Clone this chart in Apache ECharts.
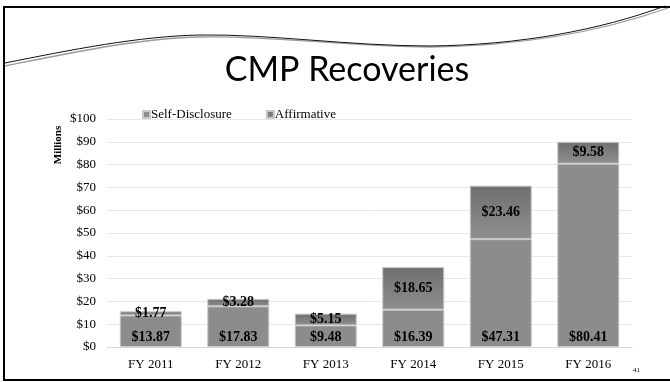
<!DOCTYPE html>
<html><head><meta charset="utf-8">
<script src="https://cdn.jsdelivr.net/npm/echarts@6/dist/echarts.min.js"></script>
<style>html,body{margin:0;padding:0;background:#fff}#c{width:670px;height:382px}</style>
</head><body><div id="c"></div>
<script>
const categories = ['FY 2011','FY 2012','FY 2013','FY 2014','FY 2015','FY 2016'];
const selfDisclosure = [13.87, 17.83, 9.48, 16.39, 47.31, 80.41];
const affirmative = [1.77, 3.28, 5.15, 18.65, 23.46, 9.58];
const seriesNames = ['Self-Disclosure', 'Affirmative'];
const yTicks = [0, 10, 20, 30, 40, 50, 60, 70, 80, 90, 100];

const chart = echarts.init(document.getElementById('c'));
const serif = '"Liberation Serif","Times New Roman",serif';
const lbl = {show:true, color:'#000', fontFamily:serif, fontWeight:'bold', fontSize:14,
  formatter: p => '$' + p.value.toFixed(2)};
function curve(x1,y1,c1x,c1y,c2x,c2y,x2,y2,color,w){
  return {type:'bezierCurve', silent:true,
    shape:{x1:x1,y1:y1,cpx1:c1x,cpy1:c1y,cpx2:c2x,cpy2:c2y,x2:x2,y2:y2},
    style:{fill:null, stroke:color, lineWidth:w}};
}
const deco = [
  curve(5,66, 70,53, 140,38, 200,37, '#9a9a9a',1.3),
  curve(200,37, 270,35, 350,47, 430,47, '#9a9a9a',1.3),
  curve(430,47, 520,46, 600,32, 668,8, '#9a9a9a',1.3),
  curve(5,63, 70,50, 140,36, 200,35, '#111',1),
  curve(200,35, 270,34, 350,46, 430,46, '#111',1),
  curve(430,46, 520,45, 600,30, 665,6, '#111',1)
];
chart.setOption({
  animation:false,
  title:{text:'CMP Recoveries', left:342, top:48, textAlign:'center',
    textStyle:{fontFamily:'Lato, "Open Sans", sans-serif', fontWeight:'normal', fontSize:34, color:'#000'}},
  legend:{data:seriesNames, left:137, top:103, itemWidth:7, itemHeight:7, itemGap:34, icon:'rect',
    textStyle:{fontFamily:serif, fontSize:13, color:'#000', padding:[0,0,0,-4]}},
  grid:{left:107, right:38, top:119, bottom:35},
  xAxis:{type:'category', data:categories,
    axisLine:{lineStyle:{color:'#d9d9d9'}}, axisTick:{show:false},
    axisLabel:{fontFamily:serif, fontSize:13, color:'#000', margin:11}},
  yAxis:{type:'value', min:0, max:100, interval:10,
    axisLabel:{fontFamily:serif, fontSize:13, color:'#000', margin:11,
      formatter: v => yTicks.includes(v) ? '$' + v : ''},
    splitLine:{lineStyle:{color:'#e8e8e8'}}},
  series:[
    {name:seriesNames[0], type:'bar', stack:'t', barWidth:62, data:selfDisclosure,
      itemStyle:{color:'#8c8c8c', borderColor:'#c8c8c8', borderWidth:1},
      label:Object.assign({position:'insideBottom', distance:3}, lbl)},
    {name:seriesNames[1], type:'bar', stack:'t', barWidth:62, data:affirmative,
      itemStyle:{color:{type:'linear',x:0,y:0,x2:0,y2:1,colorStops:[{offset:0,color:'#6f6f6f'},{offset:1,color:'#8f8f8f'}]},
        borderColor:'#c8c8c8', borderWidth:1},
      label:Object.assign({position:'inside'}, lbl)}
  ],
  graphic:[
    {type:'rect', silent:true, shape:{x:4, y:7, width:680, height:373}, style:{fill:null, stroke:'#000', lineWidth:2}},
    ...deco,
    {type:'text', silent:true, x:58, y:145, rotation:Math.PI/2,
      style:{text:'Millions', fontFamily:serif, fontWeight:'bold', fontSize:11, fill:'#000', textAlign:'center', textVerticalAlign:'middle'}},
    {type:'text', silent:true, x:633, y:367, style:{text:'41', fontSize:7, fontFamily:serif, fill:'#000'}}
  ]
});
</script></body></html>
